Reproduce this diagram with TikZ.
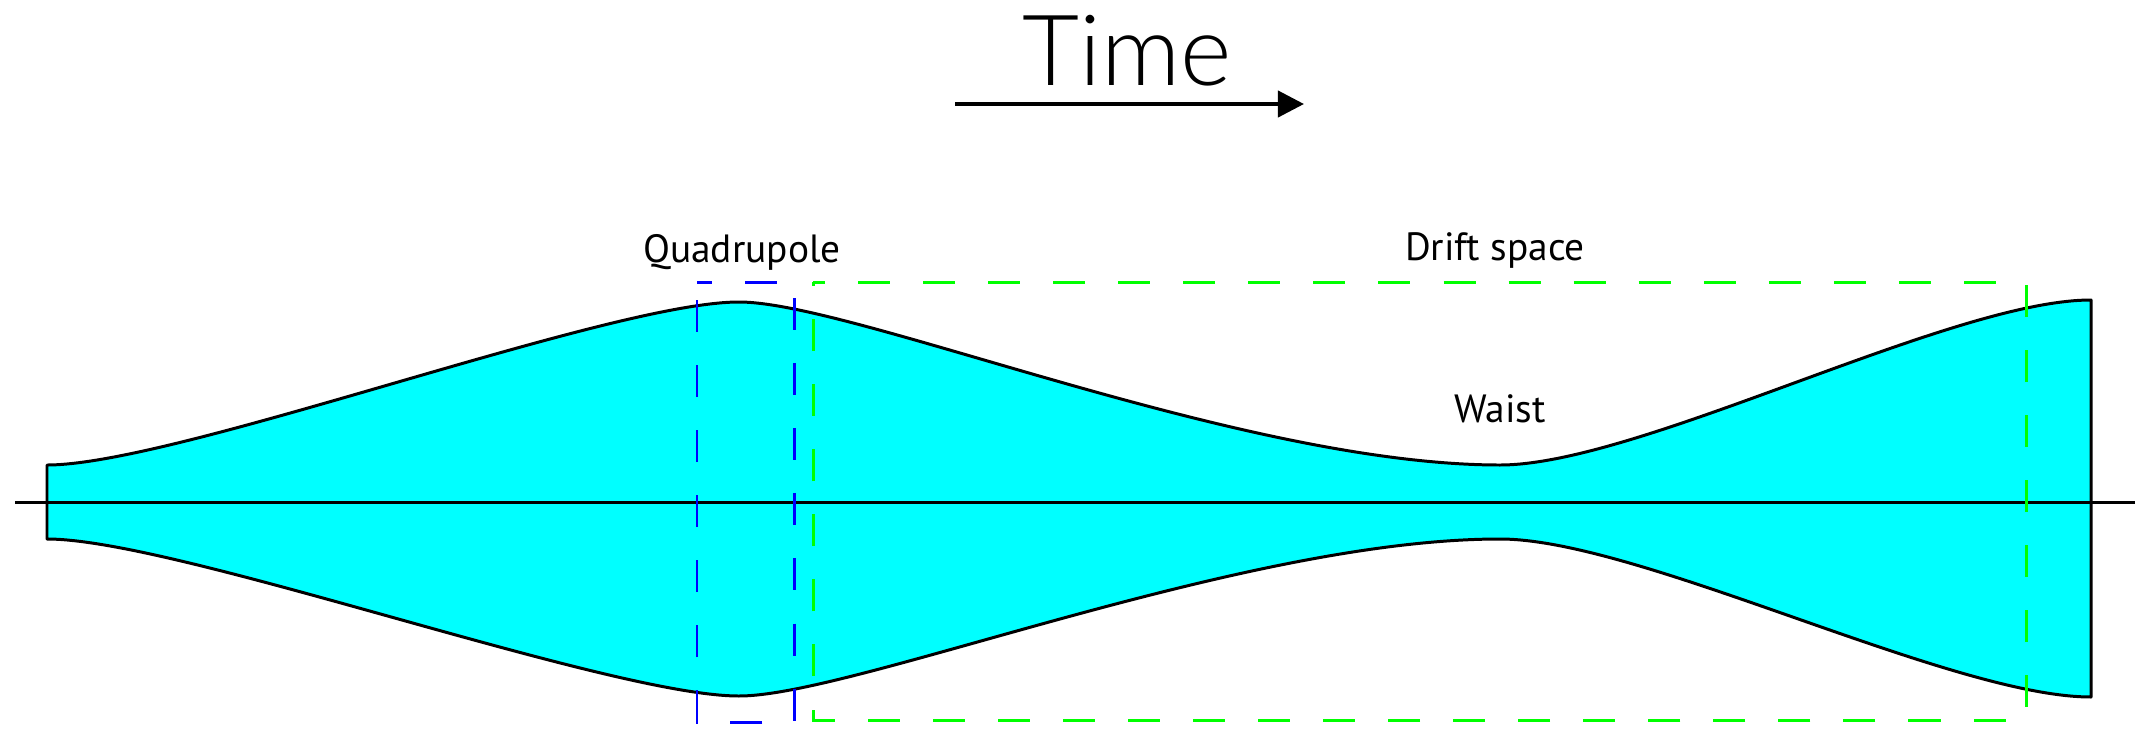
\documentclass[tikz,border=0pt]{standalone}
\usepackage{fontspec}
\usetikzlibrary{arrows.meta}
\newfontfamily\labelfont{PT Sans}
\newfontfamily\timefont{Lato Light}
\definecolor{beam}{RGB}{0,255,255}
\definecolor{quadblue}{RGB}{0,0,255}
\definecolor{driftgreen}{RGB}{0,255,0}
\tikzset{
  outline/.style={draw=black, line width=0.85pt},
  boxdash/.style={line width=0.85pt, dash pattern=on 9.1pt off 9.4pt},
  lbl/.style={font=\labelfont\fontsize{11.2}{13}\selectfont, inner sep=0pt, anchor=base},
  timelbl/.style={font=\timefont\fontsize{28}{30}\selectfont, inner sep=0pt, anchor=base},
}
\begin{document}
\begin{tikzpicture}[x=0.01cm,y=-0.01cm]
\useasboundingbox (0,0) rectangle (2135,733);
% beam envelope
\path[fill=beam, outline, line join=round]
  (47,465) .. controls (177,465) and (609,302) .. (739,302)
  .. controls (854,302) and (1241,465) .. (1500,465)
  .. controls (1640,465) and (1951,300) .. (2091,300)
  -- (2091,697)
  .. controls (1951,697) and (1640,539) .. (1500,539)
  .. controls (1241,539) and (854,696) .. (739,696)
  .. controls (609,696) and (177,539) .. (47,539) -- cycle;
% axis
\coordinate (axL) at (15,502);
\coordinate (axR) at (2135,502);
\draw[line width=0.85pt] (axL) -- (axR);
% quadrupole box
\draw[boxdash, quadblue, dash phase=4.8pt] (697,282) -- (794,282) -- (794,722) -- (697,722) -- cycle;
% drift space box
\draw[boxdash, driftgreen, dash phase=5.7pt] (813,282) -- (2026,282) -- (2026,720) -- (813,720) -- cycle;
% labels
\node[lbl] (quad) at (742,262) {Quadrupole};
\node[lbl] (drift) at (1495,260) {Drift space};
\node[lbl] (waist) at (1500,422) {Waist};
\node[timelbl] (time) at (1127,85) {Time};
\coordinate (tA) at (955,104);
\coordinate (tB) at (1304,104);
\draw[line width=1.14pt, -{Triangle[length=7.4pt,width=7.4pt]}] (tA) -- (tB);
\end{tikzpicture}
\end{document}
